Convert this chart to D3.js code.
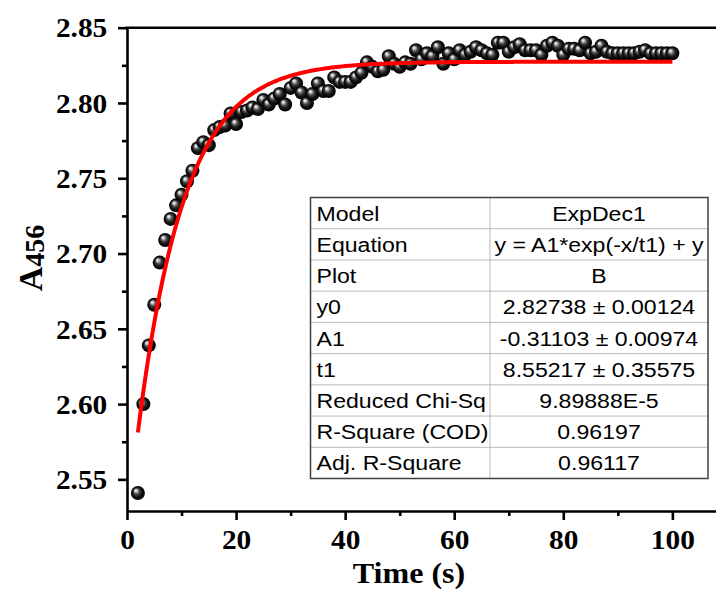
<!DOCTYPE html>
<html><head><meta charset="utf-8">
<script src="https://cdn.jsdelivr.net/npm/d3@7/dist/d3.min.js"></script>
<style>body{margin:0;background:#fff}svg{display:block}</style>
</head><body>
<script>
// ---- data ----
const times = [2,3,4,5,6,7,8,9,10,11,12,13,14,15,16,17,18,19,20,21,22,23,24,25,26,27,28,29,30,
  31,32,33,34,35,36,37,38,39,40,41,42,43,44,45,46,47,48,49,50,51,52,53,54,55,56,57,58,59,60,
  61,62,63,64,65,66,67,68,69,70,71,72,73,74,75,76,77,78,79,80,81,82,83,84,85,86,87,88,89,90,
  91,92,93,94,95,96,97,98,99,100];
const absorb = [2.541,2.600,2.639,2.666,2.694,2.709,2.723,2.732,2.739,2.748,2.755,2.770,2.774,2.772,
  2.782,2.784,2.785,2.793,2.786,2.794,2.795,2.797,2.796,2.802,2.799,2.803,2.806,2.799,2.810,
  2.813,2.807,2.800,2.806,2.813,2.808,2.808,2.817,2.814,2.814,2.814,2.817,2.820,2.827,2.824,
  2.821,2.822,2.831,2.826,2.824,2.827,2.826,2.835,2.829,2.833,2.831,2.837,2.826,2.833,2.829,
  2.835,2.832,2.834,2.837,2.835,2.833,2.832,2.840,2.840,2.834,2.837,2.839,2.835,2.835,2.835,
  2.832,2.838,2.840,2.838,2.832,2.836,2.836,2.835,2.840,2.833,2.834,2.838,2.834,2.833,2.833,
  2.833,2.833,2.833,2.834,2.835,2.833,2.833,2.833,2.833,2.833];
// fit parameters (ExpDec1) as given in the table
const fitY0 = 2.82738, fitA1 = -0.31103, fitT1 = 8.55217;
const fitRange = [2, 100];
const xTicks = [0,20,40,60,80,100];
const xMinor = [10,30,50,70,90];
const yTicks = [2.55,2.60,2.65,2.70,2.75,2.80,2.85];
const yMinor = [2.575,2.625,2.675,2.725,2.775,2.825];
const tableLabels = ["Model","Equation","Plot","y0","A1","t1","Reduced Chi-Sq","R-Square (COD)","Adj. R-Square"];
const tableValues = ["ExpDec1","y = A1*exp(-x/t1) + y","B","2.82738 \u00b1 0.00124","-0.31103 \u00b1 0.00974",
  "8.55217 \u00b1 0.35575","9.89888E-5","0.96197","0.96117"];

// ---- layout ----
const W = 716, H = 589;
const L = 127, R = 716, T = 27.7, B = 511;
const SX = 1.05;  // slight horizontal text stretch seen in the picture
const SXT = 1.1;  // table text stretch

const svg = d3.select("body").append("svg").attr("width", W).attr("height", H);
const x = d3.scaleLinear().domain([0, 108]).range([L, R]);
const y = d3.scaleLinear().domain([2.529, 2.85]).range([B, T]);

const defs = svg.append("defs");
const g = defs.append("radialGradient").attr("id","sph")
  .attr("cx","0.5").attr("cy","0.5").attr("r","0.5").attr("fx","0.33").attr("fy","0.3");
[[0,"#ffffff"],[0.18,"#c8c8c8"],[0.42,"#4a4a4a"],[0.7,"#111"],[1,"#000"]].forEach(s =>
  g.append("stop").attr("offset", s[0]).attr("stop-color", s[1]));

const serif = "'Liberation Serif','Times New Roman',serif";
const sans = "'Liberation Sans',Arial,sans-serif";

// ---- axes ----
const axW = 2.6;
const yAx = svg.append("g").attr("transform",`translate(${L},0)`)
  .call(d3.axisLeft(y).tickValues(yTicks).tickSize(9).tickSizeOuter(0).tickFormat(d3.format(".2f")));
yAx.select(".domain").attr("stroke-width", axW);
yAx.selectAll(".tick line").attr("stroke-width", axW);
yAx.selectAll("text").attr("font-family", serif).attr("font-weight","bold").attr("font-size",28)
  .attr("x", -19.7/SX).attr("dy","0.33em").attr("transform",`scale(${SX},1)`);
const yMi = svg.append("g").attr("transform",`translate(${L},0)`)
  .call(d3.axisLeft(y).tickValues(yMinor).tickSize(5).tickFormat(""));
yMi.select(".domain").remove();
yMi.selectAll(".tick line").attr("stroke-width", axW);

const xAx = svg.append("g").attr("transform",`translate(0,${B})`)
  .call(d3.axisBottom(x).tickValues(xTicks).tickSize(9).tickSizeOuter(0).tickFormat(d3.format("d")));
xAx.select(".domain").attr("stroke-width", axW);
xAx.selectAll(".tick line").attr("stroke-width", axW);
xAx.selectAll("text").attr("font-family", serif).attr("font-weight","bold").attr("font-size",28)
  .attr("y", 18).attr("transform",`scale(${SX},1)`);
const xMi = svg.append("g").attr("transform",`translate(0,${B})`)
  .call(d3.axisBottom(x).tickValues(xMinor).tickSize(5).tickFormat(""));
xMi.select(".domain").remove();
xMi.selectAll(".tick line").attr("stroke-width", axW);

// top frame
svg.append("line").attr("x1", L - axW/2).attr("x2", R).attr("y1", T).attr("y2", T)
  .attr("stroke","#000").attr("stroke-width", axW);

// axis titles
svg.append("text").attr("transform",`translate(409,583) scale(1.07,1)`)
  .attr("text-anchor","middle").attr("font-family", serif).attr("font-weight","bold")
  .attr("font-size",30).text("Time (s)");
const yt = svg.append("text").attr("transform",`translate(42,258) rotate(-90)`)
  .attr("text-anchor","middle").attr("font-family", serif).attr("font-weight","bold")
  .attr("font-size",34);
yt.append("tspan").text("A");
yt.append("tspan").attr("font-size",28).attr("dy",2).text("456");

// ---- data points ----
const pts = times.map((t,i) => ({t, v: absorb[i]}));
svg.append("g").selectAll("circle").data(pts).join("circle")
  .attr("cx", d => x(d.t)).attr("cy", d => y(d.v)).attr("r", 7)
  .attr("fill","url(#sph)");

// ---- fit curve ----
const fitX = d3.range(fitRange[0], fitRange[1] + 0.001, 0.25);
const line = d3.line().x(d => x(d)).y(d => y(fitY0 + fitA1 * Math.exp(-d / fitT1)));
svg.append("path").datum(fitX).attr("d", line).attr("fill","none")
  .attr("stroke","#ff0000").attr("stroke-width",4);

// ---- table ----
const tL = 310.5, tM = 490, tR = 708;
const rowY = d3.scaleBand().domain(tableLabels).range([197.5, 478.5]);
const tg = svg.append("g");
tg.append("rect").attr("x", tL).attr("y", rowY.range()[0]).attr("width", tR - tL)
  .attr("height", rowY.range()[1] - rowY.range()[0]).attr("fill","#fff");
defs.append("clipPath").attr("id","vcol").append("rect")
  .attr("x", tM).attr("y", 197.5).attr("width", tR - tM).attr("height", 281);
tableLabels.slice(1).forEach(lbl => {
  tg.append("line").attr("x1", tL).attr("x2", tR).attr("y1", rowY(lbl)).attr("y2", rowY(lbl))
    .attr("stroke","#b8b8b8").attr("stroke-width",1);
});
tg.append("line").attr("x1", tM).attr("x2", tM).attr("y1", 197.5).attr("y2", 478.5)
  .attr("stroke","#b8b8b8").attr("stroke-width",1);
tg.append("rect").attr("x", tL).attr("y", 197.5).attr("width", tR - tL).attr("height", 281)
  .attr("fill","none").attr("stroke","#404040").attr("stroke-width",1.5);
tableLabels.forEach((lbl, i) => {
  const cy = rowY(lbl) + rowY.bandwidth()/2;
  tg.append("text").attr("transform",`translate(${tL+6},${cy}) scale(${SXT},1)`)
    .attr("dy","0.36em").attr("font-family", sans).attr("font-size",21).text(lbl);
  tg.append("g").attr("clip-path","url(#vcol)").append("text")
    .attr("transform",`translate(${(tM+tR)/2},${cy}) scale(${SXT},1)`)
    .attr("dy","0.36em").attr("text-anchor","middle").attr("font-family", sans)
    .attr("font-size",21).text(tableValues[i]);
});
</script>
</body></html>
